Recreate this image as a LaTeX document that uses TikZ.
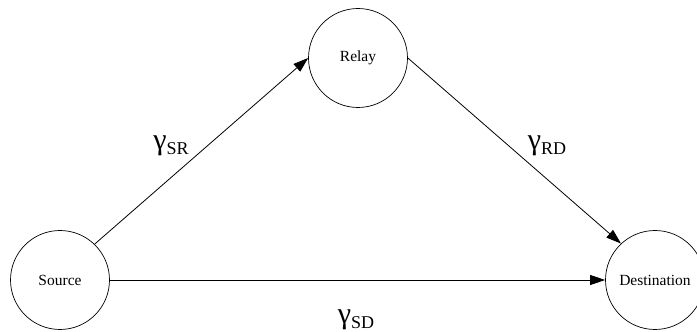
\documentclass[tikz,border=0pt]{standalone}
\usepackage{fontspec}
\setmainfont{Liberation Serif}
\usetikzlibrary{arrows.meta}

% gain label: big gamma, lowered link letters
\newcommand{\gainlbl}[1]{{\fontsize{30}{30}\selectfont γ}\raisebox{-5pt}{\fontsize{18}{18}\selectfont #1}}

\begin{document}
\begin{tikzpicture}[x=1pt, y=1pt, >={Triangle[length=15pt,width=10pt]},
  station/.style={draw, circle, line width=0.7pt, minimum size=99pt, inner sep=0pt,
    font=\fontsize{15.5}{16}\selectfont},
  link/.style={->, line width=0.8pt}]

\useasboundingbox (0,0) rectangle (697,332);

% Stations
\node[station] (S) at (60,52) {Source};
\node[station] (R) at (358,274) {Relay};
\node[station] (D) at (655,52) {Destination};

% Links
\draw[link] (S.46) -- (R.180);
\draw[link] (R.0) -- (D.133);
\draw[link] (S.0) -- (D.180);

% Channel gains
\node (gSR) at (171,186) {\gainlbl{SR}};
\node (gRD) at (547,186) {\gainlbl{RD}};
\node (gSD) at (356,12) {\gainlbl{SD}};

\end{tikzpicture}
\end{document}
